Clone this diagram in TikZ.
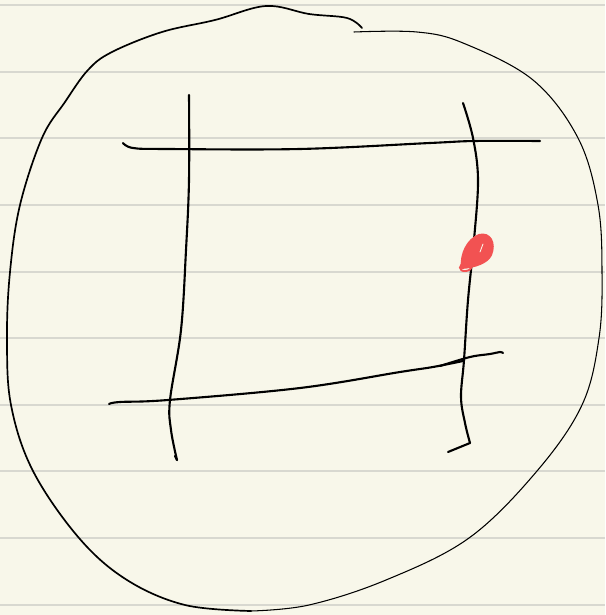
\documentclass[tikz,border=0pt]{standalone}
\usepackage{tikz}
\usetikzlibrary{calc}
\definecolor{paperbg}{RGB}{248,247,234}
\definecolor{ruleline}{RGB}{216,216,208}
\definecolor{inkred}{RGB}{242,82,82}

\begin{document}
\begin{tikzpicture}[
  x=0.025cm, y=-0.025cm,
  ruled/.style={draw=ruleline, line width=1.1pt},
  thickink/.style={draw=black, line width=1.5pt, line cap=round, line join=round},
  outerink/.style={draw=black, line width=1.2pt, line cap=round},
  thinink/.style={draw=black, line width=0.75pt, line cap=round},
  blobink/.style={draw=inkred, fill=inkred, line width=1.4pt, line join=round},
]

%% Paper and ruling (every 66.6px)
\fill[paperbg] (0,0) rectangle (605,615);
\useasboundingbox (0,0) rectangle (605,615);
\foreach \yy in {5,72,138,205,272,338,405,471,538,605}{
  \draw[ruled] (0,\yy) -- (605,\yy);
}

%% Outer loop: left stroke (heavier), right stroke (lighter)
\draw[outerink] plot[smooth, tension=0.6] coordinates {
  (362,28) (347,18) (309,14) (266,6) (215,20) (162,32) (112,52) (88,70)
  (65,102) (42,138) (20,205) (10,272) (7,338) (11,405) (33,471) (79,538)
  (127,580) (185,605) (251,611)};
\draw[thinink] plot[smooth, tension=0.6] coordinates {
  (251,611) (309,605) (386,580) (469,538) (537,471) (582,405) (599,338)
  (602,272) (598,205) (578,138) (533,80) (463,43) (417,32) (354,32)};

%% Grid strokes
%% left vertical
\draw[thickink] plot[smooth, tension=0.6] coordinates {
  (189,95) (189,180) (186,250) (181,330) (170,400) (171,430) (177,460)};
\draw[thickink] (177,460) -- (175,456);
%% top horizontal
\draw[thickink] plot[smooth, tension=0.6] coordinates {
  (123,143) (133,148) (167,149) (300,149) (430,143) (475,141) (540,141)};
%% right vertical with hook
\draw[thickink] plot[smooth, tension=0.6] coordinates {
  (463,103) (473,138) (478,180) (474,240) (468,300) (464,360) (461,397)
  (465,423) (470,443)};
\draw[thickink] (470,443) -- (448,452);
%% bottom horizontal (double-struck near the corner)
\draw[thickink] plot[smooth, tension=0.6] coordinates {
  (109,404) (120,402) (168,400) (300,388) (400,372) (433,367) (463,361)};
\draw[thickink] plot[smooth, tension=0.6] coordinates {
  (440,366) (470,357) (490,354) (500,352) (503,353)};

%% Red mark on the right vertical
\path[blobink] (462,268) .. controls (460,254) and (468,239) .. (479,235)
  .. controls (490,232) and (496,243) .. (491,255)
  .. controls (487,263) and (475,267) .. (462,268) -- cycle;
\draw[inkred, line width=1.4pt, line cap=round]
  (466,262) .. controls (458,264) and (458,272) .. (466,271)
  .. controls (470,270) .. (472,266);
\draw[paperbg, line width=0.6pt, line cap=round] (483,244) -- (480,252);

\end{tikzpicture}
\end{document}
